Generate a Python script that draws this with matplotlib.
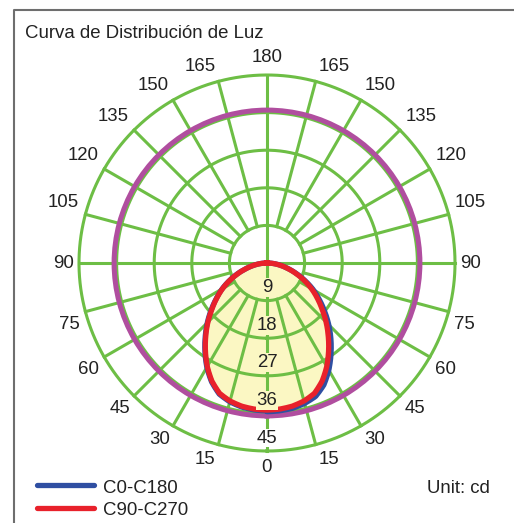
import numpy as np
import matplotlib
matplotlib.use("Agg")
import matplotlib.pyplot as plt
from matplotlib.lines import Line2D

plt.rcParams['font.family'] = ['Liberation Sans', 'DejaVu Sans']

# ---- data (cd) ----
gamma = [0, 5, 10, 15, 20, 25, 30, 35, 40, 45, 50, 55, 60, 65, 70, 75, 80, 85, 90]
c90_c270 = [35.2, 35.1, 34.8, 34.2, 33.2, 31.2, 28.6, 25.7, 22.8, 20.0, 17.2, 14.7,
            12.3, 9.8, 7.4, 5.2, 3.3, 1.6, 0.0]
c0 = [35.6, 35.5, 35.3, 34.8, 34.0, 32.2, 29.6, 26.7, 23.8, 20.9, 18.0, 15.3,
      12.8, 10.1, 7.6, 5.3, 3.4, 1.7, 0.0]
c180 = [35.4, 35.3, 35.0, 34.4, 33.4, 31.4, 28.8, 25.9, 23.0, 20.2, 17.4, 14.8,
        12.4, 9.9, 7.5, 5.2, 3.3, 1.6, 0.0]
purple_angles = [0, 30, 60, 90, 120, 150, 180, 210, 240, 270, 300, 330, 360]
purple_values = [36.6, 36.6, 36.6, 36.6, 36.6, 36.6, 36.6, 36.6, 36.6, 36.6, 36.6, 36.6, 36.6]
ring_values = [9, 18, 27, 36, 45]
angle_ticks = [0, 15, 30, 45, 60, 75, 90, 105, 120, 135, 150, 165, 180]
legend_labels = ["C0-C180", "C90-C270"]

# label layout (angle in degrees, distance in px from centre)
tick_label_theta = [0, 17.5, 31.3, 45.3, 59.1, 72.8, 90, 106.5, 120.2, 133.7, 147.3, 161.2, 180]
tick_label_dist = [204, 205.6, 207.1, 207.5, 208.3, 206.5, 203.5, 212.2, 212.8, 212.7, 210.4, 208, 205]

GREEN = '#6DBE45'
RED = '#E8212B'
BLUE = '#2F4FA2'
PURPLE = '#B04E9F'
FILL = '#FBF7C3'
TXT = '#222222'
FS = 13.4

W, H = 514, 523
fig = plt.figure(figsize=(W / 100, H / 100), dpi=100)
cx, cy, R = 267, 263, 188
RMAX = 45
ax = fig.add_axes([(cx - R) / W, (H - cy - R) / H, 2 * R / W, 2 * R / H], projection='polar')
ax.set_theta_zero_location('S')
ax.set_theta_direction(1)
ax.set_ylim(0, RMAX)
ax.set_axis_off()
px2cd = RMAX / R


def full_curve(right, left):
    th_r = np.deg2rad(gamma)
    th_l = -np.deg2rad(gamma[::-1])
    th = np.concatenate([th_l, th_r])
    r = np.concatenate([left[::-1], right])
    return th, r


def smooth(line):
    line.get_path()._interpolation_steps = 40
    return line


# fill
th_red, r_red = full_curve(c90_c270, c90_c270)
poly = ax.fill(th_red, r_red, color=FILL, zorder=1, lw=0)[0]
poly.get_path()._interpolation_steps = 40

# grid
circ = np.linspace(0, 2 * np.pi, 400)
for rv in ring_values:
    ax.plot(circ, np.full_like(circ, rv), color=GREEN, lw=2.2, zorder=2, clip_on=False)
for a in range(0, 360, 15):
    t = np.deg2rad(a)
    r0 = 0 if a % 90 == 0 else 9
    ax.plot([t, t], [r0, 45], color=GREEN, lw=2.2, zorder=2, clip_on=False)

# curves
smooth(ax.plot(np.deg2rad(purple_angles), purple_values, color=PURPLE, lw=3.6, zorder=3)[0])
th_b, r_b = full_curve(c0, c180)
smooth(ax.plot(th_b, r_b, color=BLUE, lw=3.8, zorder=4)[0])
smooth(ax.plot(th_red, r_red, color=RED, lw=3.8, zorder=5)[0])

# radial labels
for rv in ring_values:
    fc = FILL if rv < 45 else 'white'
    ax.text(0, rv - 3.1, str(rv), ha='center', va='center', fontsize=FS, color=TXT,
            zorder=6, bbox=dict(boxstyle='square,pad=0.05', fc=fc, ec='none'))

# angle labels
for a, lt, ld in zip(angle_ticks, tick_label_theta, tick_label_dist):
    for sgn in ([1] if a in (0, 180) else [1, -1]):
        ax.text(sgn * np.deg2rad(lt), ld * px2cd, str(a), ha='center', va='center', fontsize=FS,
                color=TXT, clip_on=False)

# title, unit
fig.text(25 / W, 1 - 38 / H, "Curva de Distribución de Luz", fontsize=FS, color=TXT,
         ha='left', va='baseline')
fig.text(490 / W, 1 - 493 / H, "Unit: cd", fontsize=FS, color=TXT, ha='right', va='baseline')

# legend
for col, lab, yb, yl in [(BLUE, legend_labels[0], 493, 485), (RED, legend_labels[1], 515, 508)]:
    fig.add_artist(Line2D([37 / W, 94 / W], [1 - yl / H, 1 - yl / H], color=col, lw=3.8,
                          solid_capstyle='round', transform=fig.transFigure))
    fig.text(103 / W, 1 - yb / H, lab, fontsize=FS, color=TXT, ha='left', va='baseline')

# frame
fig.add_artist(Line2D([14 / W, 14 / W, 1], [0, 1 - 10 / H, 1 - 10 / H], color='#6E6E6E', lw=1.5,
                      transform=fig.transFigure))

fig.savefig('out.png', dpi=100)
